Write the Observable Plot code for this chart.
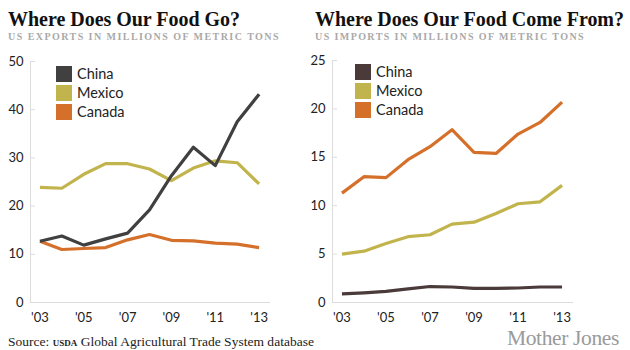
<!DOCTYPE html>
<html><head><meta charset="utf-8">
<script src="https://cdn.jsdelivr.net/npm/d3@7"></script>
<script src="https://cdn.jsdelivr.net/npm/@observablehq/plot@0.6"></script>
<style>
body{margin:0;background:#fff;}
#wrap{position:relative;width:630px;height:350px;overflow:hidden;background:#fff;}
.t{position:absolute;white-space:nowrap;line-height:1;font-family:"Liberation Serif",serif;}
.title{font-weight:bold;font-size:20px;color:#111;}
.sub{font-weight:bold;font-size:10px;color:#a9a9a9;}
.chart{position:absolute;top:50px;}
.legend{position:absolute;font-family:"Lato","Noto Sans",sans-serif;font-size:14.5px;color:#222;}
.legend div{display:flex;align-items:center;height:19px;}
.legend span.sw{display:inline-block;width:16px;height:16px;margin-right:5px;}
.chart svg text{font-family:"Lato","Noto Sans",sans-serif;}
</style></head>
<body>
<div id="wrap">
  <div id="t1" class="t title" style="left:8px;top:9px;" data-w="232">Where Does Our Food Go?</div>
  <div id="s1" class="t sub" style="left:8px;top:31.5px;" data-w="272">US EXPORTS IN MILLIONS OF METRIC TONS</div>
  <div id="t2" class="t title" style="left:315px;top:9px;" data-w="309">Where Does Our Food Come From?</div>
  <div id="s2" class="t sub" style="left:315px;top:31.5px;" data-w="270">US IMPORTS IN MILLIONS OF METRIC TONS</div>
  <div id="left" class="chart" style="left:0px;"></div>
  <div id="right" class="chart" style="left:310px;"></div>
  <div id="legL" class="legend" style="left:56px;top:64px;"></div>
  <div id="legR" class="legend" style="left:355px;top:62px;"></div>
  <div id="source" class="t" style="left:8px;top:335px;font-size:13.5px;color:#222;" data-w="306">Source: <span style="font-variant:small-caps;text-transform:lowercase;font-weight:bold;">USDA</span> Global Agricultural Trade System database</div>
  <div id="mj" class="t" style="left:507px;top:327.5px;font-size:21.5px;color:#9a9a9a;" data-w="112">Mother Jones</div>
</div>
<script>
const years = [2003,2004,2005,2006,2007,2008,2009,2010,2011,2012,2013];
const countries = ["China","Mexico","Canada"];
const colorsLeft = ["#404040","#c2b44c","#d5702b"];
const colorsRight = ["#4a3a3a","#c2b44c","#d5702b"];

// US exports (millions of metric tons)
const exportChina  = [12.7,13.8,11.9,13.2,14.4,19.2,26.3,32.2,28.4,37.5,43.2];
const exportMexico = [23.9,23.7,26.6,28.8,28.8,27.7,25.3,27.9,29.4,29.0,24.6];
const exportCanada = [12.7,11.0,11.2,11.4,13.0,14.1,12.9,12.8,12.3,12.1,11.4];

// US imports (millions of metric tons)
const importChina  = [0.9,1.0,1.15,1.4,1.65,1.6,1.45,1.45,1.5,1.6,1.6];
const importMexico = [5.0,5.3,6.1,6.8,7.0,8.1,8.3,9.2,10.2,10.4,12.1];
const importCanada = [11.3,13.0,12.9,14.75,16.1,17.85,15.5,15.4,17.4,18.6,20.7];

const xTicks = [2003,2005,2007,2009,2011,2013];
const yTicksLeft = [0,10,20,30,40,50];
const yTicksRight = [0,5,10,15,20,25];
const xDomain = [2002.57, 2013.52];

function rows(series){
  const out = [];
  [2,1,0].forEach(i => years.forEach((y,j) => out.push({year:y, value:series[i][j], country:countries[i]})));
  return out;
}

function chart(data, yTicks, colors, opts){
  return Plot.plot({
    width: 300, height: 280,
    marginTop: opts.mt, marginBottom: 28, marginLeft: opts.ml, marginRight: opts.mr,
    x: {domain: xDomain},
    y: {domain: [yTicks[0], yTicks[yTicks.length-1]]},
    color: {domain: countries, range: colors},
    style: {fontSize: "13px", color: "#222"},
    marks: [
      Plot.ruleY([yTicks[0]], {stroke: "#dcdcdc", strokeWidth: 1}),
      Plot.ruleX([xDomain[0]], {stroke: "#dcdcdc", strokeWidth: 1}),
      Plot.axisY({ticks: yTicks, tickSize: -5, tickPadding: 12, stroke: "#dcdcdc", fill: "#222", label: null}),
      Plot.axisX({ticks: xTicks, tickSize: 0, tickPadding: 10, fill: "#222", label: null,
                  tickFormat: d => "'" + String(d).slice(2)}),
      Plot.line(data, {x: "year", y: "value", z: "country", stroke: "country", strokeWidth: 3.2,
                       strokeLinejoin: "round", strokeLinecap: "butt"})
    ]
  });
}

document.getElementById("left").append(
  chart(rows([exportChina, exportMexico, exportCanada]), yTicksLeft, colorsLeft, {mt: 11, ml: 30, mr: 30}));
document.getElementById("right").append(
  chart(rows([importChina, importMexico, importCanada]), yTicksRight, colorsRight, {mt: 10, ml: 22, mr: 37}));

function legend(el, colors){
  countries.forEach((c,i) => {
    const d = document.createElement("div");
    d.innerHTML = `<span class="sw" style="background:${colors[i]}"></span>${c}`;
    el.append(d);
  });
}
legend(document.getElementById("legL"), colorsLeft);
legend(document.getElementById("legR"), colorsRight);

// fit text widths to the reference by letter-spacing
document.querySelectorAll("[data-w]").forEach(el => {
  const target = +el.dataset.w;
  const w = el.getBoundingClientRect().width;
  const n = el.textContent.length;
  el.style.letterSpacing = ((target - w) / n) + "px";
});
</script>
</body></html>
